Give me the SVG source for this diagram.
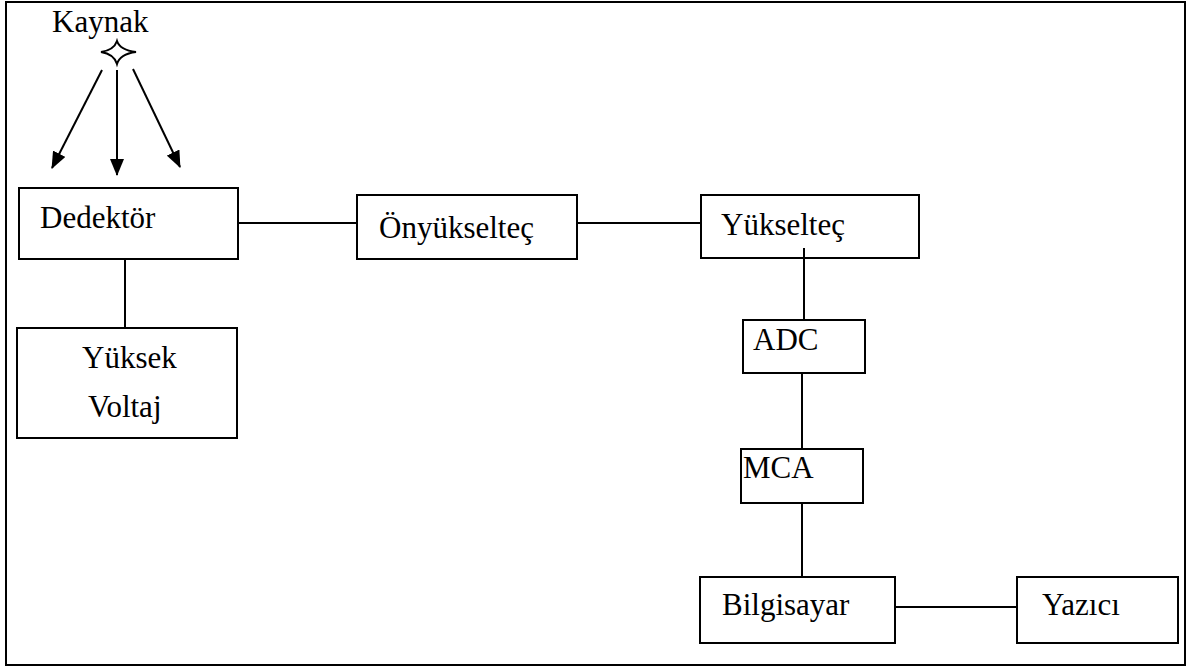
<svg xmlns="http://www.w3.org/2000/svg" width="1192" height="668" viewBox="0 0 1192 668">
<style>
.box{fill:#fff;stroke:#000;stroke-width:2}
.t{font-family:'Liberation Serif','DejaVu Serif','Times New Roman',serif;font-size:31px;fill:#000}
.c{stroke:#000;stroke-width:2;fill:none}
</style>
<defs>
<marker id="ah" markerWidth="17" markerHeight="14" refX="16" refY="7" orient="auto" markerUnits="userSpaceOnUse">
<path d="M0,0 L17,7 L0,14 Z" fill="#000"/>
</marker>
</defs>
<rect x="0" y="0" width="1192" height="668" fill="#fff"/>
<rect x="6" y="2" width="1179" height="663" fill="none" stroke="#000" stroke-width="2"/>
<g id="kaynak">
<text class="t" x="52" y="32" font-family="Liberation Serif, serif">Kaynak</text>
<path d="M101,52 Q114,50 117,41 Q120,50 136,52 Q120,54 117,64 Q114,54 101,52 Z" fill="#fff" stroke="#000" stroke-width="2"/>
</g>
<g id="connectors">
<line class="c" x1="102" y1="70" x2="52" y2="168" marker-end="url(#ah)"/>
<line class="c" x1="117" y1="70" x2="117" y2="175" marker-end="url(#ah)"/>
<line class="c" x1="133" y1="69" x2="180" y2="167" marker-end="url(#ah)"/>
<line class="c" x1="238" y1="223" x2="357" y2="223"/>
<line class="c" x1="577" y1="223" x2="701" y2="223"/>
<line class="c" x1="125" y1="259" x2="125" y2="328"/>
<line class="c" x1="804" y1="248" x2="804" y2="320"/>
<line class="c" x1="802" y1="373" x2="802" y2="449"/>
<line class="c" x1="802" y1="503" x2="802" y2="577"/>
<line class="c" x1="895" y1="607" x2="1017" y2="607"/>
</g>
<g id="dedektor">
<rect class="box" x="19" y="188" width="219" height="71"/>
<text class="t" x="40" y="228">Dedektör</text>
</g>
<g id="onyukseltec">
<rect class="box" x="357" y="195" width="220" height="64"/>
<text class="t" x="379" y="238">Önyükselteç</text>
</g>
<g id="yukseltec">
<rect class="box" x="701" y="195" width="218" height="63"/>
<text class="t" x="721" y="235">Yükselteç</text>
<line class="c" x1="804" y1="248" x2="804" y2="258"/>
</g>
<g id="yuksekvoltaj">
<rect class="box" x="17" y="328" width="220" height="110"/>
<text class="t" x="82" y="368">Yüksek</text>
<text class="t" x="88" y="417">Voltaj</text>
</g>
<g id="adc">
<rect class="box" x="743" y="320" width="122" height="53"/>
<text class="t" x="753" y="350">ADC</text>
</g>
<g id="mca">
<rect class="box" x="741" y="449" width="122" height="54"/>
<text class="t" x="743" y="478">MCA</text>
</g>
<g id="bilgisayar">
<rect class="box" x="700" y="577" width="195" height="66"/>
<text class="t" x="722" y="615">Bilgisayar</text>
</g>
<g id="yazici">
<rect class="box" x="1017" y="577" width="161" height="66"/>
<text class="t" x="1042" y="615">Yazıcı</text>
</g>
</svg>
